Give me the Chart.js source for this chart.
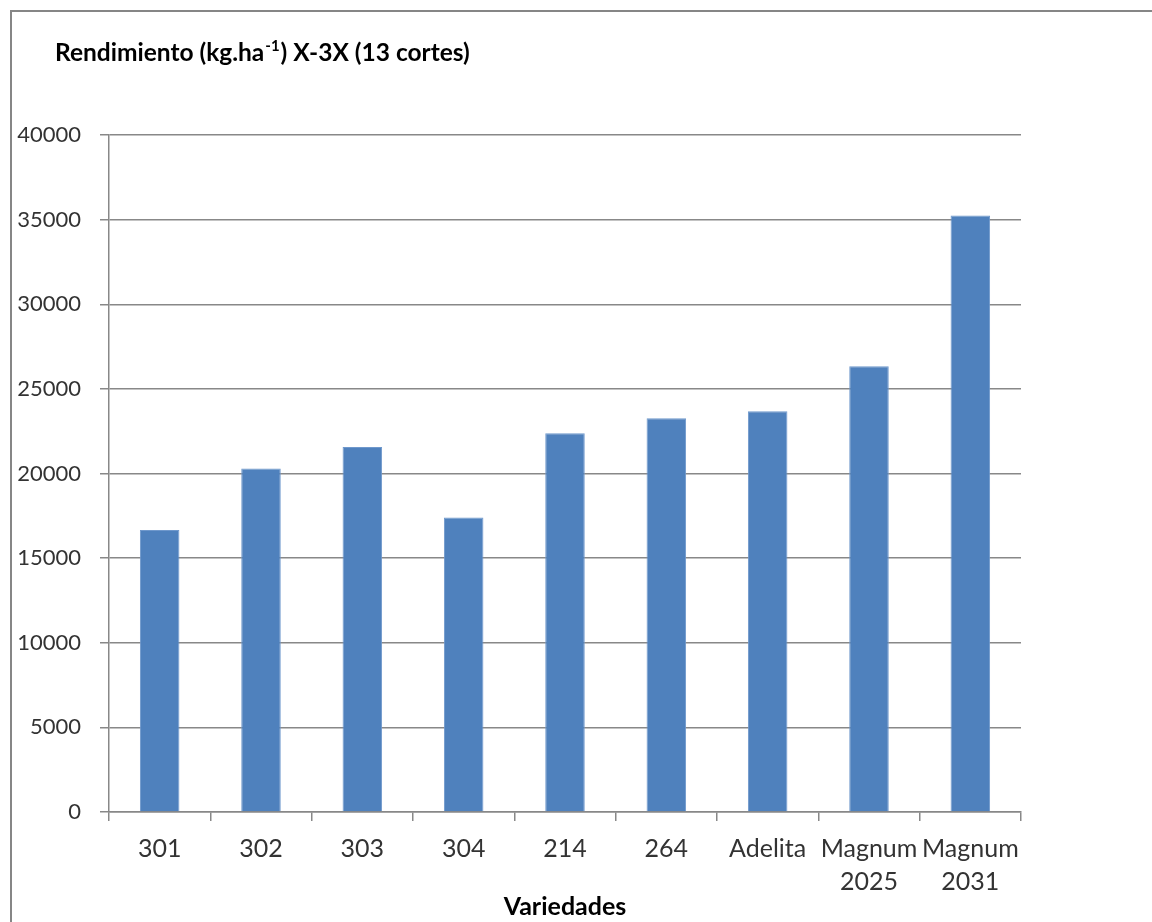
<!DOCTYPE html>
<html>
<head>
<meta charset="utf-8">
<script src="https://cdn.jsdelivr.net/npm/chart.js@4"></script>
<style>
  html, body { margin: 0; padding: 0; background: #fff; }
  #wrap { position: relative; width: 1152px; height: 922px; overflow: hidden; }
  #frame { position: absolute; left: 10px; top: 10px; width: 1200px; height: 1000px;
           border-left: 2px solid #868686; border-top: 2px solid #868686; }
  canvas { position: absolute; left: 0; top: 0; }
</style>
</head>
<body>
<div id="wrap">
  <div id="frame"></div>
  <canvas id="myChart" width="1152" height="922"></canvas>
</div>
<script>
// data
let variedades = ['301', '302', '303', '304', '214', '264', 'Adelita', ['Magnum', '2025'], ['Magnum', '2031']];
let rendimiento = [16660, 20290, 21570, 17400, 22380, 23270, 23680, 26330, 35240];
let yTicks = [0, 5000, 10000, 15000, 20000, 25000, 30000, 35000, 40000];

var fontFam = 'Lato, "Open Sans", sans-serif';
var gridCol = '#888888';

// title with superscript, drawn on the canvas
var titlePlugin = {
  id: 'titulo',
  afterDraw: function(chart) {
    var c = chart.ctx;
    c.save();
    c.fillStyle = '#000';
    c.textBaseline = 'alphabetic';
    var x = 55, y = 61;
    c.font = 'bold 24.5px ' + fontFam;
    var a = 'Rendimiento (kg.ha';
    c.fillText(a, x, y);
    x += c.measureText(a).width;
    c.font = 'bold 15px ' + fontFam;
    c.fillText('-1', x + 1, y - 10);
    x += c.measureText('-1').width + 2;
    c.font = 'bold 24.5px ' + fontFam;
    c.fillText(') X-3X (13 cortes)', x, y);
    c.restore();
  }
};

var ctx = document.getElementById('myChart').getContext('2d');
var myChart = new Chart(ctx, {
  type: 'bar',
  data: {
    labels: variedades,
    datasets: [{
      data: rendimiento,
      backgroundColor: '#4F81BD',
      borderColor: '#6f98cc',
      borderWidth: 1,
      categoryPercentage: 1,
      barPercentage: 0.39
    }]
  },
  options: {
    responsive: false,
    animation: false,
    layout: { padding: { left: 0, right: 131, top: 135, bottom: 0 } },
    plugins: {
      legend: { display: false },
      tooltip: { enabled: false }
    },
    scales: {
      y: {
        min: 0,
        max: 40000,
        afterFit: function(s) { s.width = 109; },
        afterBuildTicks: function(s) { s.ticks = yTicks.map(function(v) { return { value: v }; }); },
        ticks: {
          color: '#333',
          font: { family: fontFam, size: 22 },
          padding: 19,
          callback: function(v) { return String(v); }
        },
        grid: { color: gridCol, lineWidth: 1.5, tickLength: 9 },
        border: { color: gridCol, width: 1.5 }
      },
      x: {
        afterFit: function(s) { s.height = 110; },
        ticks: {
          color: '#333',
          font: { family: fontFam, size: 25, lineHeight: 1.3 },
          padding: 12,
          maxRotation: 0,
          autoSkip: false
        },
        grid: { offset: true, drawOnChartArea: false, color: gridCol, lineWidth: 1.5, tickLength: 9 },
        border: { color: gridCol, width: 1.5 },
        title: {
          display: true,
          text: 'Variedades',
          color: '#000',
          font: { family: fontFam, size: 25, weight: 'bold' },
          padding: { top: 0, bottom: 0 }
        }
      }
    }
  },
  plugins: [titlePlugin]
});
</script>
</body>
</html>
